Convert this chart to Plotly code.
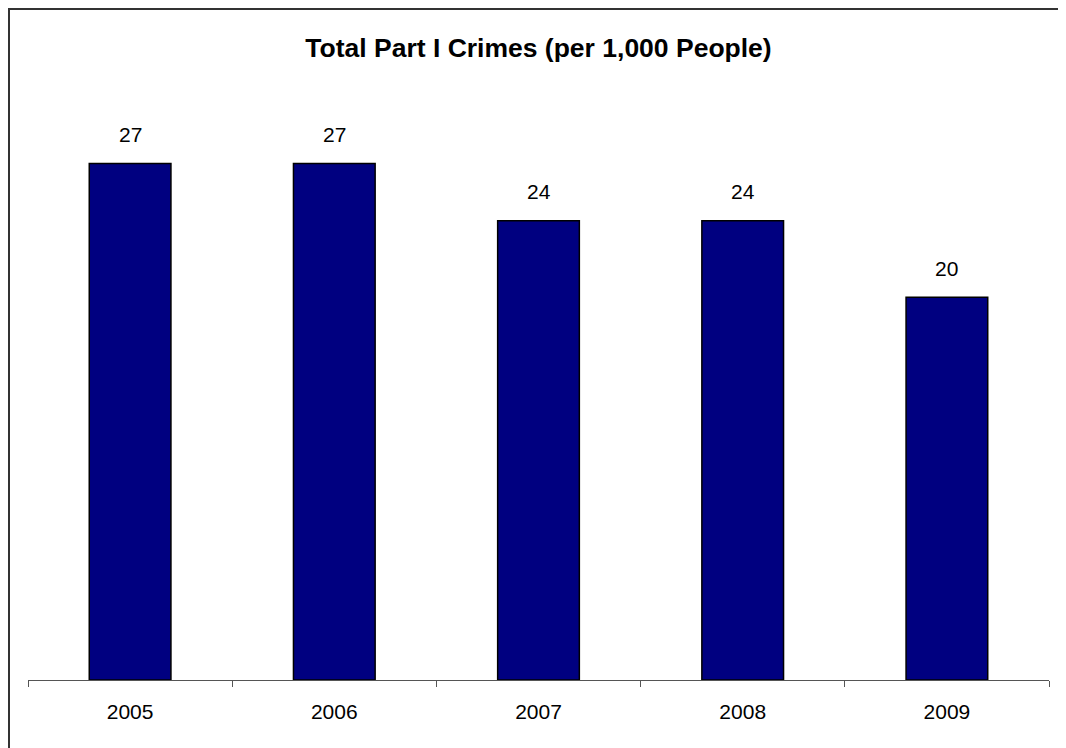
import plotly.graph_objects as go

years = ["2005", "2006", "2007", "2008", "2009"]
crimes = [27, 27, 24, 24, 20]

W, H = 1058, 740          # page body has an 8px margin
L, R, T, B = 20, 17, 98, 68
pw, ph = W - L - R, H - T - B
FONT = "Liberation Sans, Arial"

fig = go.Figure()
fig.add_trace(go.Bar(
    x=years, y=crimes,
    marker=dict(color="#000080", line=dict(color="#000000", width=1.5)),
    hoverinfo="x+y",
))

for i, v in enumerate(crimes):
    fig.add_annotation(x=i, y=v, text=str(v), showarrow=False,
                       yanchor="middle", yshift=29,
                       font=dict(family=FONT, size=21, color="#000000"))

fig.update_layout(
    width=W, height=H,
    margin=dict(l=L, r=R, t=T, b=B),
    paper_bgcolor="white", plot_bgcolor="white",
    bargap=0.6,
    showlegend=False,
    title=dict(text="<b>Total Part I Crimes (per 1,000 People)</b>",
               x=0.5, xanchor="center", xref="paper",
               y=1 - 40 / H, yanchor="middle",
               font=dict(family=FONT, size=26.5, color="#000000")),
    xaxis=dict(type="category", showline=True, linecolor="#555555", linewidth=1,
               range=[-0.5, len(years) - 0.5],
               ticks="outside", tickson="boundaries", ticklen=6, tickcolor="#555555",
               ticklabelstandoff=13,
               tickfont=dict(family=FONT, size=21, color="#000000"),
               showgrid=False, zeroline=False),
    yaxis=dict(visible=False, range=[0, 30]),
    shapes=[dict(type="rect", xref="paper", yref="paper",
                 x0=(1 - L) / pw, x1=1.1, y0=-0.3, y1=(H - B - 1) / ph,
                 line=dict(color="#333333", width=2), fillcolor="rgba(0,0,0,0)",
                 layer="below")],
)

fig.write_html("out.html")
